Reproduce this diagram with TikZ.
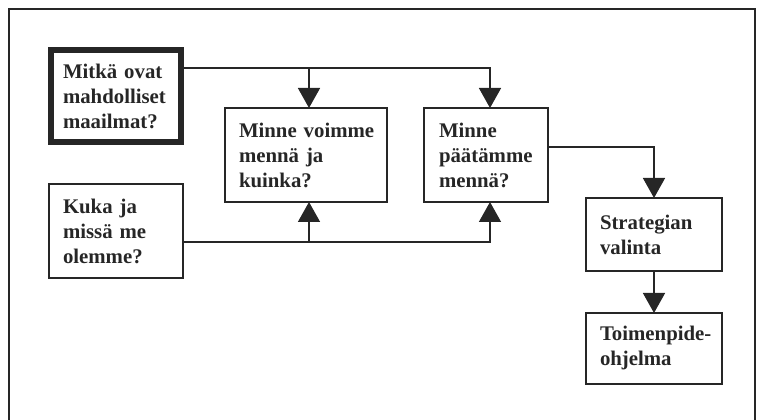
\documentclass[tikz,border=0pt]{standalone}
\usepackage{fontspec}
\setmainfont{Liberation Serif}
\usetikzlibrary{arrows.meta,calc}
\begin{document}
\begin{tikzpicture}[x=1pt,y=1pt,
  box/.style={draw=black!85, line width=2.2pt, rectangle, inner ysep=0pt, outer sep=0pt,
    align=left, font=\fontsize{20.8}{25}\selectfont\bfseries, text=black!85},
  conn/.style={draw=black!85, line width=1.5pt},
  arr/.style={conn, -{Triangle[length=20pt,width=22pt]}},
  frame/.style={draw=black!85, line width=2pt}]
\useasboundingbox (0,0) rectangle (758,420);
\draw[frame] (9,0) -- (9,411) -- (755,411) -- (755,0);
\node[box, line width=6.5pt, minimum width=130, minimum height=92, inner xsep=12, text width=106] (A) at (116,324)
  {\mbox{Mitkä ovat}\\\mbox{mahdolliset}\\\mbox{maailmat?}};
\node[box, minimum width=134, minimum height=94, inner xsep=14, text width=106] (B) at (116,189)
  {\mbox{Kuka ja}\\\mbox{missä me}\\\mbox{olemme?}};
\node[box, minimum width=162, minimum height=94, inner xsep=14, text width=134] (C) at (306,265)
  {\mbox{Minne voimme}\\\mbox{mennä ja}\\\mbox{kuinka?}};
\node[box, minimum width=124, minimum height=94, inner xsep=15, text width=94] (D) at (486,265)
  {\mbox{Minne}\\\mbox{päätämme}\\\mbox{mennä?}};
\node[box, minimum width=136, minimum height=73, inner xsep=14, text width=108] (E) at (654,185.5)
  {\mbox{Strategian}\\\mbox{valinta}};
\node[box, minimum width=136, minimum height=71, inner xsep=14, text width=108] (F) at (654,71.5)
  {\mbox{Toimenpide-}\\\mbox{ohjelma}};
\coordinate (a1) at ([yshift=-18pt]A.north east);
\coordinate (b1) at ([yshift=-11pt]B.east);
\coordinate (cN) at ([xshift=3pt]C.north);
\coordinate (cS) at ([xshift=3pt]C.south);
\coordinate (dN) at ([xshift=4pt]D.north);
\coordinate (dS) at ([xshift=4pt]D.south);
\draw[arr] (a1) -| (dN);
\draw[arr] (a1 -| cN) -- (cN);
\draw[arr] (b1) -| (dS);
\draw[arr] (b1 -| cS) -- (cS);
\draw[arr] ([yshift=8pt]D.east) -| (E.north);
\draw[arr] (E.south) -- (F.north);
\end{tikzpicture}
\end{document}
